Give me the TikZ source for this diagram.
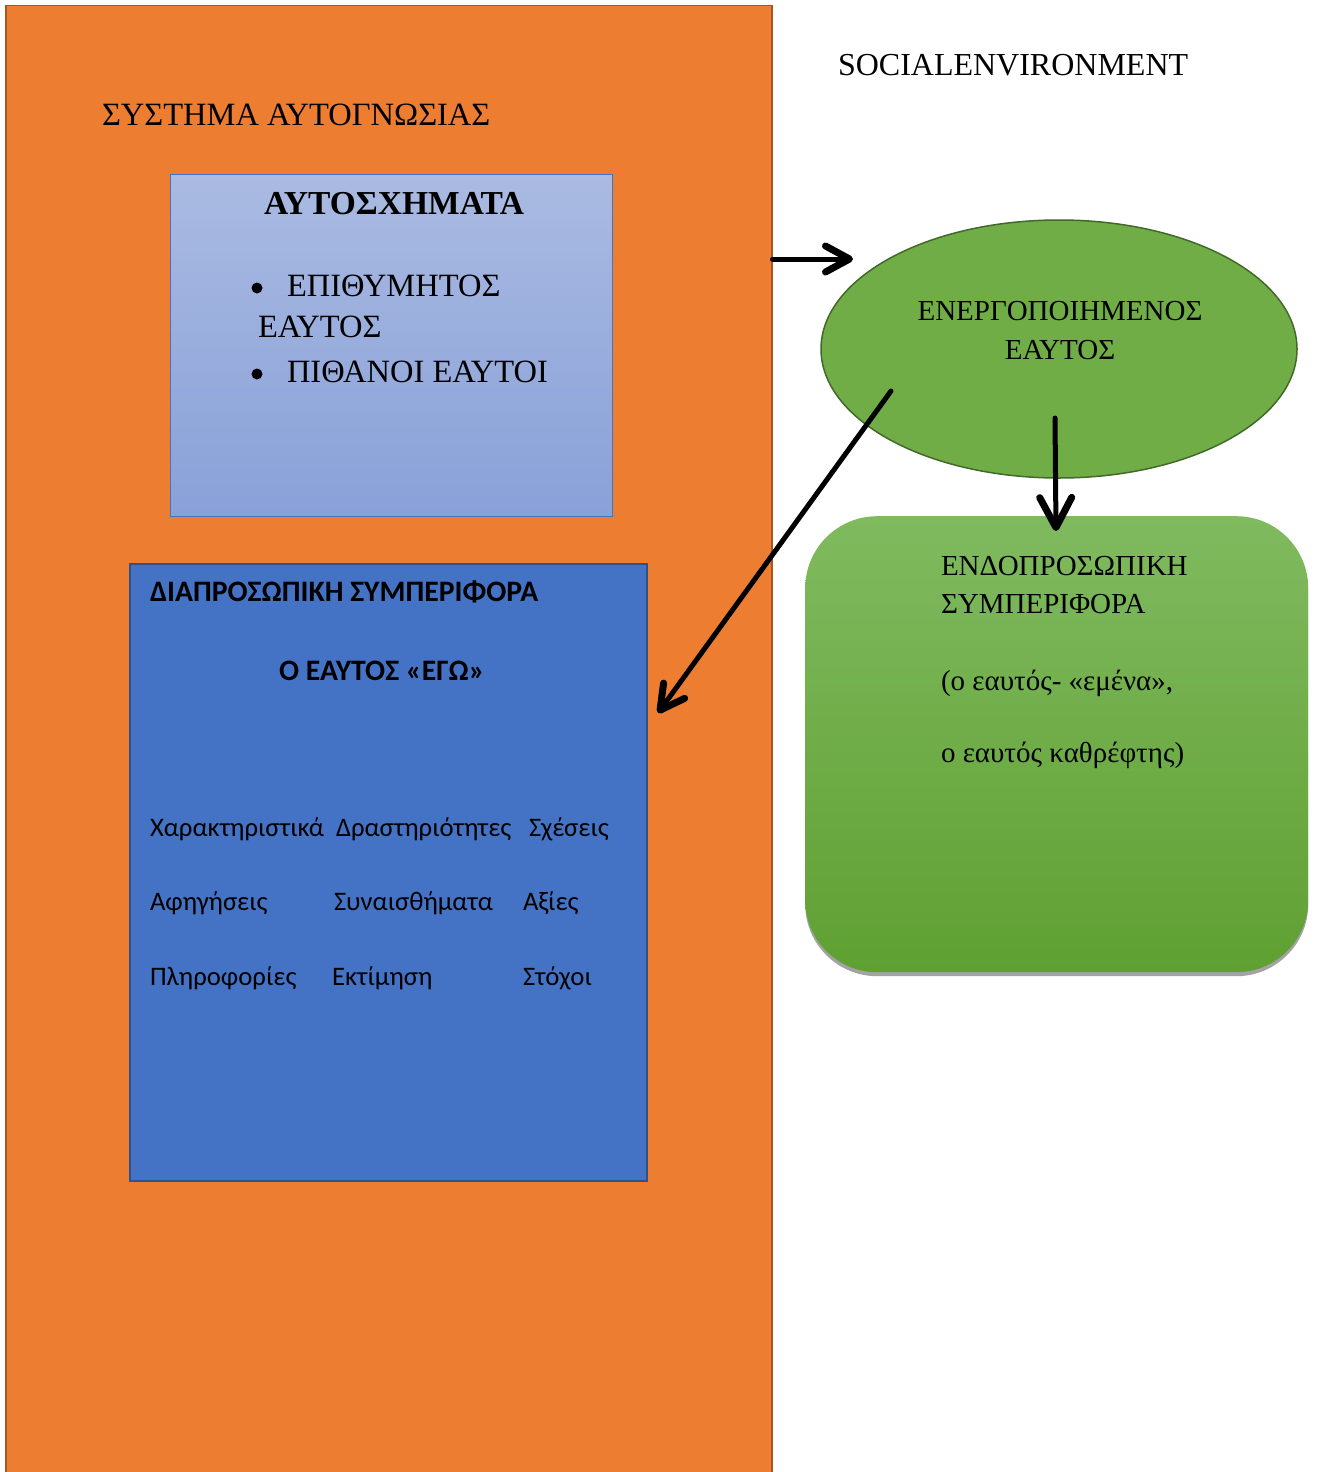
\documentclass[tikz,border=0pt]{standalone}
\usepackage{fontspec}
\setmainfont{Liberation Serif}
\newfontfamily\calibrifont{Carlito}
\usetikzlibrary{arrows.meta,shapes.geometric,shadows}

\definecolor{sysorange}{HTML}{ED7D31}
\definecolor{sysedge}{HTML}{A9561E}
\definecolor{schemtop}{HTML}{AABAE2}
\definecolor{schembot}{HTML}{88A1D8}
\definecolor{schemedge}{HTML}{4472C4}
\definecolor{interblue}{HTML}{4472C4}
\definecolor{interedge}{HTML}{2F528F}
\definecolor{actgreen}{HTML}{70AD47}
\definecolor{actedge}{HTML}{42692A}
\definecolor{intratop}{HTML}{80BA5F}
\definecolor{intrabot}{HTML}{5FA032}

\tikzset{
  label/.style={anchor=base west, inner sep=0pt, outer sep=0pt, text=black},
  serifbig/.style={label, font=\fontsize{32.5}{39}\selectfont},
  serifmid/.style={label, font=\fontsize{29}{35}\selectfont},
  sansmid/.style={label, font=\calibrifont\fontsize{26.7}{32}\selectfont},
  sansbold/.style={label, font=\calibrifont\bfseries\fontsize{29.7}{35}\selectfont},
  bulletdot/.style={circle, fill=black, inner sep=0pt, minimum size=11pt},
  conn/.style={line width=5pt, draw=black, line cap=round,
    -{Straight Barb[length=24pt, width=26pt, line width=7pt, round]}},
  bigconn/.style={conn,
    -{Straight Barb[length=30pt, width=32pt, line width=7pt, round]}},
}

\begin{document}
\begin{tikzpicture}[x=1pt, y=-1pt]
\useasboundingbox (0,0) rectangle (1318,1472);
\clip (0,0) rectangle (1318,1472);
\fill[white] (0,0) rectangle (1318,1472);

% self-knowledge system panel
\node[draw=sysedge, fill=sysorange, line width=1.5pt, anchor=north west,
      minimum width=766pt, minimum height=1500pt, inner sep=0pt] (sys) at (5,5) {};
\node[serifbig] (systitle) at (102,125) {ΣΥΣΤΗΜΑ ΑΥΤΟΓΝΩΣΙΑΣ};

% self-schemas box
\node[draw=schemedge, top color=schemtop, bottom color=schembot, line width=1pt,
      anchor=north west, minimum width=442pt, minimum height=342pt, inner sep=0pt]
      (schemas) at (170,174) {};
\node[label, font=\bfseries\fontsize{33.5}{40}\selectfont, anchor=base]
      (schemtitle) at (394,214) {ΑΥΤΟΣΧΗΜΑΤΑ};
\node[bulletdot] (bulletA) at (257,288) {};
\node[serifbig] (itemA) at (287,296) {ΕΠΙΘΥΜΗΤΟΣ};
\node[serifbig] (itemAb) at (258,337) {ΕΑΥΤΟΣ};
\node[bulletdot] (bulletB) at (257,374) {};
\node[serifbig] (itemB) at (287,382) {ΠΙΘΑΝΟΙ ΕΑΥΤΟΙ};

% interpersonal behaviour box
\node[draw=interedge, fill=interblue, line width=2pt, anchor=north west,
      minimum width=517pt, minimum height=617pt, inner sep=0pt]
      (inter) at (129,563) {};
\node[sansbold] (intertitle) at (150,601) {ΔΙΑΠΡΟΣΩΠΙΚΗ ΣΥΜΠΕΡΙΦΟΡΑ};
\node[sansbold] (ego) at (279,680) {Ο ΕΑΥΤΟΣ «ΕΓΩ»};
\node[sansmid] (c11) at (150,836) {Χαρακτηριστικά};
\node[sansmid] (c12) at (336,836) {Δραστηριότητες};
\node[sansmid] (c13) at (529,836) {Σχέσεις};
\node[sansmid] (c21) at (150,910) {Αφηγήσεις};
\node[sansmid] (c22) at (334,910) {Συναισθήματα};
\node[sansmid] (c23) at (523,910) {Αξίες};
\node[sansmid] (c31) at (150,985) {Πληροφορίες};
\node[sansmid] (c32) at (332,985) {Εκτίμηση};
\node[sansmid] (c33) at (523,985) {Στόχοι};

% social environment
\node[label, font=\fontsize{32}{38}\selectfont] (social) at (838,75) {SOCIALENVIRONMENT};

% activated self
\node[ellipse, draw=actedge, fill=actgreen, line width=1.5pt,
      minimum width=476pt, minimum height=258pt, inner sep=0pt]
      (active) at (1059,349) {};
\node[serifmid, anchor=base] (activeA) at (1060,320) {ΕΝΕΡΓΟΠΟΙΗΜΕΝΟΣ};
\node[serifmid, anchor=base] (activeB) at (1060,359) {ΕΑΥΤΟΣ};

% intrapersonal behaviour box
\node[rounded corners=72pt, top color=intratop, bottom color=intrabot,
      drop shadow={shadow xshift=0pt, shadow yshift=-4pt, fill=black!45, opacity=0.8},
      minimum width=503pt, minimum height=456pt, inner sep=0pt, anchor=north west]
      (intra) at (805,516) {};
\node[serifmid] (intraA) at (941,575) {ΕΝΔΟΠΡΟΣΩΠΙΚΗ};
\node[serifmid] (intraB) at (941,613) {ΣΥΜΠΕΡΙΦΟΡΑ};
\node[serifmid] (intraC) at (941,690) {(ο εαυτός- «εμένα»,};
\node[serifmid] (intraD) at (941,762) {ο εαυτός καθρέφτης)};

% connectors
\coordinate (sysout) at (sys.east |- 0,259);
\coordinate (toactive) at (853,259);
\coordinate (fromactiveL) at (891,391);
\coordinate (tointer) at (658,713);
\coordinate (fromactiveD) at (1055,418);
\coordinate (tointra) at (1056,531);
\draw[conn] (sysout) -- (toactive);
\draw[conn] (fromactiveL) -- (tointer);
\draw[bigconn] (fromactiveD) -- (tointra);
\end{tikzpicture}
\end{document}
